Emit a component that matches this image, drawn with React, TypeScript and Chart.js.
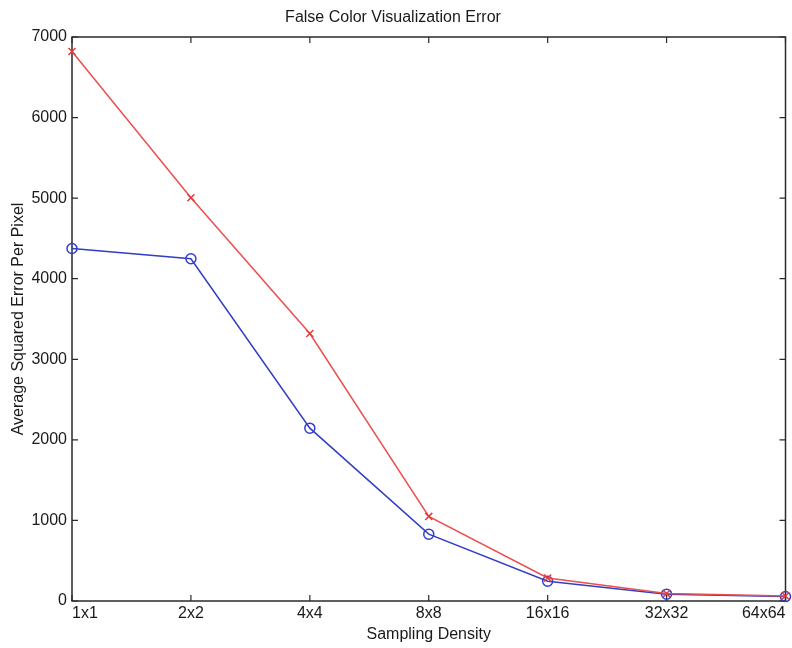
import React, { useEffect, useRef } from "react";
import { Chart, registerables } from "chart.js";

Chart.register(...registerables);

const categories = ["1x1", "2x2", "4x4", "8x8", "16x16", "32x32", "64x64"];
const redSeries = [6820, 5005, 3320, 1050, 285, 92, 62];
const blueSeries = [4375, 4248, 2145, 830, 245, 85, 55];
const yTicks = [0, 1000, 2000, 3000, 4000, 5000, 6000, 7000];

const FONT = '"Liberation Sans", Arial, Helvetica, sans-serif';
const TEXT = "#1a1a1a";
const AXIS = "#2a2a2a";

const framePlugin = {
  id: "matlabFrame",
  beforeDatasetsDraw(chart: any) {
    const { ctx, chartArea } = chart;
    const { left, right, top, bottom } = chartArea;
    const xs = chart.scales.x;
    const ys = chart.scales.y;
    const tl = 6;
    ctx.save();
    ctx.strokeStyle = AXIS;
    ctx.lineWidth = 1.5;
    ctx.strokeRect(left, top, right - left, bottom - top);
    ctx.lineWidth = 1.2;
    ctx.beginPath();
    for (let i = 0; i < categories.length; i++) {
      const px = xs.getPixelForTick(i);
      ctx.moveTo(px, bottom);
      ctx.lineTo(px, bottom - tl);
      ctx.moveTo(px, top);
      ctx.lineTo(px, top + tl);
    }
    for (const v of yTicks) {
      const py = ys.getPixelForValue(v);
      ctx.moveTo(left, py);
      ctx.lineTo(left + tl, py);
      ctx.moveTo(right, py);
      ctx.lineTo(right - tl, py);
    }
    ctx.stroke();
    ctx.restore();
  },
};

export default function App() {
  const ref = useRef<HTMLCanvasElement | null>(null);

  useEffect(() => {
    document.body.style.margin = "0";
    const canvas = ref.current;
    if (!canvas) return;
    const chart = new Chart(canvas, {
      type: "line",
      data: {
        labels: categories,
        datasets: [
          {
            label: "Red",
            data: redSeries,
            borderColor: "rgb(236,78,78)",
            backgroundColor: "rgba(0,0,0,0)",
            borderWidth: 1.5,
            pointStyle: "crossRot",
            pointRadius: 5,
            pointBorderColor: "rgb(226,60,60)",
            pointBorderWidth: 1.5,
            tension: 0,
            clip: false as any,
          },
          {
            label: "Blue",
            data: blueSeries,
            borderColor: "rgb(50,62,196)",
            backgroundColor: "rgba(0,0,0,0)",
            borderWidth: 1.5,
            pointStyle: "circle",
            pointRadius: 5,
            pointBorderColor: "rgb(50,62,210)",
            pointBackgroundColor: "rgba(0,0,0,0)",
            pointBorderWidth: 1.5,
            tension: 0,
            clip: false as any,
          },
        ],
      },
      options: {
        animation: false,
        responsive: false,
        events: [],
        layout: { padding: { left: 0, right: 6, top: 0, bottom: 0 } },
        plugins: {
          legend: { display: false },
          tooltip: { enabled: false },
          title: {
            display: true,
            text: "False Color Visualization Error",
            color: TEXT,
            font: { family: FONT, size: 16, weight: "normal" as any },
            padding: { top: 8, bottom: 9.8 },
          },
        },
        scales: {
          x: {
            type: "category",
            offset: false,
            grid: { display: false, drawTicks: false },
            border: { display: false },
            ticks: {
              color: TEXT,
              font: { family: FONT, size: 16 },
              padding: 3,
              align: "inner",
              maxRotation: 0,
              autoSkip: false,
            },
            title: {
              display: true,
              text: "Sampling Density",
              color: TEXT,
              font: { family: FONT, size: 16 },
              padding: { top: 0, bottom: 4 },
            },
            afterFit(scale: any) {
              scale.height = 47;
            },
          },
          y: {
            type: "linear",
            min: 0,
            max: 7000,
            grid: { display: false, drawTicks: false },
            border: { display: false },
            ticks: {
              stepSize: 1000,
              color: TEXT,
              font: { family: FONT, size: 16 },
              padding: 5,
              callback: (v: any) => String(v),
            },
            title: {
              display: true,
              text: "Average Squared Error Per Pixel",
              color: TEXT,
              font: { family: FONT, size: 16 },
              padding: { top: 9, bottom: 0 },
            },
            afterFit(scale: any) {
              scale.width = 72;
            },
          },
        },
      },
      plugins: [framePlugin],
    });
    return () => chart.destroy();
  }, []);

  return (
    <div style={{ position: "absolute", left: 0, top: 0, width: 792, height: 648, background: "#fff" }}>
      <canvas ref={ref} width={792} height={648} style={{ display: "block" }} />
    </div>
  );
}
